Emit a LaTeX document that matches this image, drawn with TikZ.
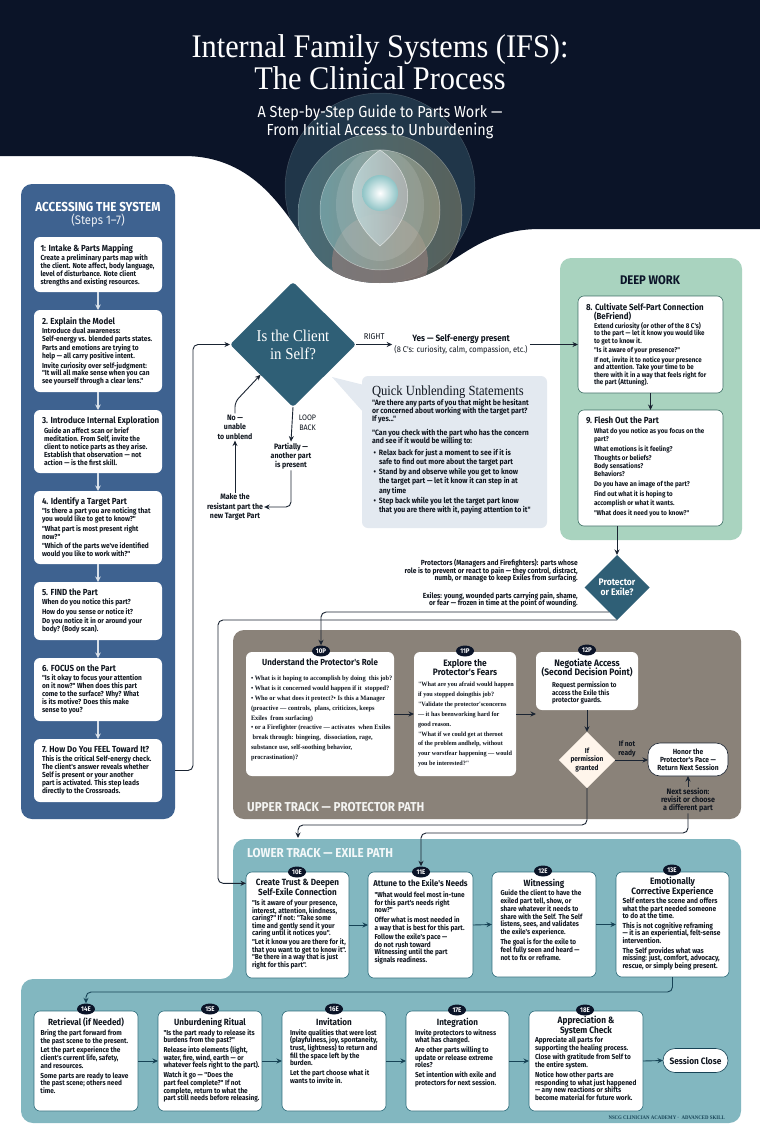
\documentclass[tikz,border=0pt]{standalone}
\usepackage{fontspec}
\usetikzlibrary{arrows.meta,shapes.geometric,calc}
\newfontfamily\condf{Fira Sans}[FakeStretch=0.9]
\newfontfamily\subf{Fira Sans}[FakeStretch=0.9]
\newfontfamily\titlef{Liberation Serif}[FakeStretch=0.92]
\newfontfamily\serifb{Liberation Serif}[FakeStretch=0.9]
\newfontfamily\serift{Liberation Serif}[FakeStretch=0.95]
\newcommand{\condb}{\condf\bfseries}
\newcommand{\sz}[2]{\fontsize{#1}{#2}\selectfont\lineskiplimit=-10pt\relax}
\newcommand{\gap}{\par\vspace{2pt}}
% card heading, left aligned or centred
\newcommand{\hdl}[2][8.8]{{\raggedright\rightskip=-30pt plus 1fil\relax\sz{#1}{9}\condb #2\par}\vspace{1.6pt}}
\newcommand{\hdc}[2][9]{{\centering\sz{#1}{9.3}\condb #2\par}\vspace{1.6pt}}
% card body: size, leading, left indent, lines
\newcommand{\bd}[4]{{\raggedright\leftskip=#3pt\rightskip=-30pt plus 1fil\relax\sz{#1}{#2}\condb #4\par}}
\newcommand{\bds}[2][6.7]{{\raggedright\rightskip=-30pt plus 1fil\relax\sz{#1}{9.85}\serift\bfseries #2\par}}
% white step card placed by its corners, with its own padding
\newcommand{\card}[9][]{%
  \pgfmathsetmacro\cardw{#5-#3-2*(#7)}%
  \pgfmathsetmacro\cardh{#6-#4-2*(#8)}%
  \node[cardbox,#1,inner xsep=#7pt,inner ysep=#8pt,anchor=north west] (#2) at (#3,#4)
    {\parbox[c][\cardh pt][t]{\cardw pt}{#9}};%
}
\definecolor{night}{HTML}{0B1428}
\definecolor{leftpanel}{HTML}{3E6290}
\definecolor{deeppanel}{HTML}{A9D3BF}
\definecolor{upperpanel}{HTML}{8A8279}
\definecolor{lowerpanel}{HTML}{82B7C0}
\definecolor{quickpanel}{HTML}{E3E9F0}
\definecolor{crosspetrol}{HTML}{2F5F76}
\definecolor{wire}{HTML}{1A2432}
\definecolor{wireteal}{HTML}{174356}
\definecolor{textink}{HTML}{10161F}
\definecolor{deepedge}{HTML}{3F6F66}
\definecolor{lowedge}{HTML}{2F6D7C}
\definecolor{halotealdark}{HTML}{35596A}
\definecolor{haloteal}{HTML}{6F9FA3}
\definecolor{haloolive}{HTML}{8F8C6E}
\definecolor{halotealpale}{HTML}{8FC4C6}
\definecolor{halosand}{HTML}{B3AE92}
\definecolor{halorose}{HTML}{9A817E}
\tikzset{
  cardbox/.style={fill=white,rounded corners=6pt,outer sep=0pt,text=textink},
  deepcard/.style={draw=deepedge,line width=.6pt},
  lowcard/.style={draw=lowedge,line width=.6pt},
  conn/.style={draw=wire,line width=.9pt,-{Stealth[length=5.5pt,width=5pt]},rounded corners=5pt},
  lowconn/.style={conn,draw=wireteal},
  liteconn/.style={draw=white!80!leftpanel,line width=1.1pt,-{Stealth[length=5.5pt,width=5.5pt]}},
  panelbox/.style={rounded corners=11pt,inner sep=0pt,outer sep=0pt,anchor=north west},
  badge/.style={ellipse,fill=night,text=white,inner sep=0pt,minimum width=18pt,minimum height=11pt,font=\condb\sz{6.8}{7}},
  pill/.style={fill=white,draw=wire,line width=.6pt,rounded corners=12pt,inner sep=0pt,outer sep=0pt,text=textink,align=center},
  note/.style={text=textink,inner sep=1pt,align=center,font=\condb\sz{7.8}{9}}
}
\begin{document}
\begin{tikzpicture}[x=1pt,y=-1pt]
\useasboundingbox (0,0) rectangle (760,1140);
\fill[white] (0,0) rectangle (760,1140);

% header field with the wave along its lower edge
\def\wavepath{(0,0) -- (760,0) -- (760,229) -- (540,229)
  .. controls (500,229) and (475,245) .. (450,262)
  .. controls (430,276) and (410,283) .. (380,283)
  .. controls (345,283) and (325,270) .. (310,248)
  .. controls (285,212) and (255,156) .. (184,156)
  -- (0,156) -- cycle}
\fill[night] \wavepath;
\begin{scope}
  \clip \wavepath;
  \fill[halotealdark,opacity=.5] (380,188) circle (95);
  \draw[white,opacity=.18,line width=.5pt] (380,188) circle (95);
  \shade[left color=haloteal,right color=haloolive,opacity=.5] (380,215) circle (82);
  \draw[white,opacity=.3,line width=.5pt] (380,215) circle (82);
  \fill[halorose,opacity=.6] (380,262) circle (48);
  \shade[left color=halotealpale,right color=halosand,opacity=.55] (380,210) circle (60);
  \draw[white,opacity=.45,line width=.5pt] (380,210) circle (60);
  \fill[white,opacity=.12] (380,205) ellipse (44 and 56);
  \shade[left color=halotealpale!55!white,right color=gray!65!white,opacity=.85]
    (380,150) .. controls (343,175) and (343,215) .. (380,246)
    .. controls (417,215) and (417,175) .. (380,150);
  \draw[white,opacity=.6,line width=.5pt]
    (380,150) .. controls (343,175) and (343,215) .. (380,246)
    .. controls (417,215) and (417,175) .. (380,150);
  \shade[inner color=white,outer color=halotealpale] (380,193) circle (18);
\end{scope}

\node[text=white,align=center,font=\titlef\sz{33}{31.5}] (title) at (380,62) {Internal Family Systems (IFS):\\The Clinical Process};
\node[text=white,align=center,font=\subf\sz{16}{17.5}] (subtitle) at (380,122) {A Step-by-Step Guide to Parts Work —\\From Initial Access to Unburdening};

% coloured track panels
\node[panelbox,fill=leftpanel,minimum width=154pt,minimum height=635pt] (pa) at (21,184) {};
\node[panelbox,fill=deeppanel,minimum width=182pt,minimum height=282pt] (pd) at (560,258) {};
\node[panelbox,fill=upperpanel,minimum width=508pt,minimum height=189pt] (pu) at (233,630) {};
\fill[lowerpanel] (233,851) arc[start angle=180,end angle=270,radius=12] -- (729,839)
  arc[start angle=-90,end angle=0,radius=12] -- (741,1111)
  arc[start angle=0,end angle=90,radius=12] -- (33,1123)
  arc[start angle=90,end angle=180,radius=12] -- (21,991)
  arc[start angle=180,end angle=270,radius=12] -- (221,979)
  arc[start angle=90,end angle=0,radius=12] -- cycle;

\node[text=white,align=center,font=\condb\sz{13}{13}] (patitle) at (98,207) {ACCESSING THE SYSTEM};
\node[text=white!90!leftpanel,font=\subf\sz{12.5}{13}] (pasub) at (98,220.5) {(Steps 1–7)};
\node[text=night,font=\condb\sz{12.5}{13}] (pdtitle) at (650,280) {DEEP WORK};
\node[text=white!90!upperpanel,anchor=west,inner sep=0pt,font=\condb\sz{12.9}{13}] (putitle) at (247,807) {UPPER TRACK — PROTECTOR PATH};
\node[text=white!90!lowerpanel,anchor=west,inner sep=0pt,font=\condb\sz{12.9}{13}] (pltitle) at (247,853) {LOWER TRACK — EXILE PATH};

% steps 1-7
\card{b1}{34}{237}{162}{292}{6.5}{7.5}{\hdl{1: Intake \& Parts Mapping}\bd{7.3}{7.7}{0}{Create a preliminary parts map with\\the client. Note affect, body language,\\level of disturbance. Note client\\strengths and existing resources.}}
\card{b2}{34}{310}{162}{392}{8}{7}{\hdl{2. Explain the Model}\bd{7.3}{7.7}{0}{Introduce dual awareness:\\Self-energy vs. blended parts states.\gap Parts and emotions are trying to\\help — all carry positive intent.\gap Invite curiosity over self-judgment:\\"It will all make sense when you can\\see yourself through a clear lens."}}
\card{b3}{34}{410}{162}{473}{8}{6.5}{\hdl{3. Introduce Internal Exploration}\bd{7.3}{8}{2}{Guide an affect scan or brief\\meditation. From Self, invite the\\client to notice parts as they arise.\\Establish that observation — not\\action — is the first skill.}}
\card{b4}{34}{491}{162}{564}{8}{6.5}{\hdl{4. Identify a Target Part}\bd{7.3}{7.7}{0}{"Is there a part you are noticing that\\you would like to get to know?"\gap"What part is most present right\\now?"\gap"Which of the parts we've identified\\would you like to work with?"}}
\card{b5}{34}{582}{162}{640}{8}{6.5}{\hdl{5. FIND the Part}\bd{7.3}{7.7}{0}{When do you notice this part?\gap How do you sense or notice it?\gap Do you notice it in or around your\\body? (Body scan).}}
\card{b6}{34}{658}{162}{721}{8}{6.5}{\hdl{6. FOCUS on the Part}\bd{7.3}{8}{0}{"Is it okay to focus your attention\\on it now?" When does this part\\come to the surface? Why? What\\is its motive? Does this make\\sense to you?}}
\card{b7}{34}{739}{162}{802}{8}{6.5}{\hdl{7. How Do You FEEL Toward It?}\bd{7.3}{8}{0}{This is the critical Self-energy check.\\The client's answer reveals whether\\Self is present or your another\\part is activated. This step leads\\directly to the Crossroads.}}
\foreach \u/\v in {b1/b2,b2/b3,b3/b4,b4/b5,b5/b6,b6/b7}
  \draw[liteconn] (\u.south) -- (\v.north);

% steps 8-9
\card[deepcard]{b8}{578}{296}{723}{393}{8}{7}{\hdl{8. Cultivate Self-Part Connection\\\hspace*{8pt}(BeFriend)}\bd{6.9}{7.5}{8}{Extend curiosity (or other of the 8 C's)\\to the part — let it know you would like\\to get to know it.\gap"Is it aware of your presence?"\gap If not, invite it to notice your presence\\and attention. Take your time to be\\there with it in a way that feels right for\\the part (Attuning).}}
\card[deepcard]{b9}{578}{410}{723}{526}{8}{7}{\hdl{9. Flesh Out the Part}\bd{6.9}{8.2}{8}{What do you notice as you focus on the\\part?\gap What emotions is it feeling?\\Thoughts or beliefs?\\Body sensations?\\Behaviors?\gap Do you have an image of the part?\gap Find out what it is hoping to\\accomplish or what it wants.\gap"What does it need you to know?"}}
\draw[conn] (b8.south) -- (b9.north);

% first decision and its loop
\node[diamond,fill=crosspetrol,rounded corners=3pt,minimum width=126pt,minimum height=125pt,aspect=1,inner sep=0pt,outer sep=0pt,text=white,align=center,font=\serifb\sz{16.5}{18}] (cr) at (293,344.5) {Is the Client\\in Self?};
\coordinate (riseL) at (193,500);
\draw[conn] (pa.east |- b7.east) -- (b7.east -| riseL) -- (riseL |- cr.west) -- (cr.west);
\node[text=textink,align=center,inner sep=2pt,font=\condf\sz{8.3}{10.5}] (yes) at (461,344.5) {{\condb\sz{9.1}{10.5}Yes — Self-energy present}\\(8 C's: curiosity, calm, compassion, etc.)};
\draw[conn] (cr.east) -- node[above=1pt,text=textink,font=\condf\sz{8.4}{9}] (rightlab) {RIGHT} (yes.west);
\draw[conn] (yes.east) -- (yes.east -| b8.west);
\node[note,font=\condb\sz{7.8}{9.2}] (partial) at (291,456) {Partially —\\another part\\is present};
\node[note,font=\condb\sz{7.8}{9.2}] (make) at (235,507) {Make the\\resistant part the\\new Target Part};
\node[note,font=\condb\sz{7.8}{9.6}] (no) at (235,427) {No —\\unable\\to unblend};
\draw[conn] (cr.south) -- node[right=3pt,pos=.45,text=textink,align=center,font=\condf\sz{7.9}{10}] (looplab) {LOOP\\BACK} (partial.north);
\draw[conn] (partial.south) -- (partial.south |- make.east) -- (make.east);
\draw[conn] (make.north) -- (no.south);
\coordinate (nobend) at (235,402);
\draw[conn] (no.north) -- (nobend) -- (cr.223);

% unblending statements callout
\fill[quickpanel] (332,377) -- (364,385) -- (364,413) -- cycle;
\card[fill=quickpanel,text=textink]{qu}{362}{376}{547}{528}{10}{9.5}{%
  {\serifb\sz{14}{15}Quick Unblending Statements\par}\vspace{2.5pt}%
  \bd{7.7}{8}{0}{"Are there any parts of you that might be hesitant\\or concerned about working with the target part?\\If yes..."\par\vspace{5.5pt}"Can you check with the part who has the concern\\and see if it would be willing to:}\vspace{2.5pt}%
  \bd{7.7}{9.4}{7}{\leavevmode\llap{•\hspace{3pt}}Relax back for just a moment to see if it is\\safe to find out more about the target part\par\vspace{.5pt}\leavevmode\llap{•\hspace{3pt}}Stand by and observe while you get to know\\the target part — let it know it can step in at\\any time\par\vspace{.5pt}\leavevmode\llap{•\hspace{3pt}}Step back while you let the target part know\\that you are there with it, paying attention to it"}}

% second decision with its two notes
\node[diamond,fill=crosspetrol,minimum width=65pt,minimum height=65pt,aspect=1,inner sep=0pt,outer sep=0pt,text=white,align=center,font=\condb\sz{9.5}{10.5}] (pe) at (617,587.5) {Protector\\or Exile?};
\draw[conn] (b9.south -| pe.north) -- (pe.north);
\node[anchor=east,inner sep=0pt,align=right,text=textink,font=\condb\sz{7.4}{7.6}] (protnote) at (578,571) {Protectors (Managers and Firefighters): parts whose\\role is to prevent or react to pain — they control, distract,\\numb, or manage to keep Exiles from surfacing.};
\node[anchor=east,inner sep=0pt,align=right,text=textink,font=\condb\sz{7.4}{7.6}] (exnote) at (578,600) {Exiles: young, wounded parts carrying pain, shame,\\or fear — frozen in time at the point of wounding.};

% upper track cards
\card{b10p}{246}{652}{394}{776}{5}{7}{\hdc[8.8]{Understand the Protector's Role}\vspace{3.5pt}\bds{• What is it hoping to accomplish by doing~ this job?\\• What is it concerned would happen if it~ stopped?\\• Who or what does it protect?• Is this a Manager\\(proactive — controls,~ plans, criticizes, keeps\\Exiles~ from surfacing)\\• or a Firefighter (reactive — activates~ when Exiles\\\hspace*{1.5pt}break through: bingeing,~ dissociation, rage,\\substance use, self-soothing behavior,\\procrastination)?}}
\card{b11p}{414}{652}{516}{776}{4}{7}{\hdc[9.3]{Explore the\\Protector's Fears}\bds[6.5]{"What are you afraid would happen\\if you stopped doingthis job?\\"Validate the protector'sconcerns\\— it has beenworking hard for\\good reason.\\"What if we could get at theroot\\of the problem andhelp, without\\your worstfear happening — would\\you be interested?"}}
\card{b12p}{536}{652}{638}{710}{5}{7}{\hdc[9.4]{Negotiate Access\\(Second Decision Point)}\vspace{2pt}\bd{7}{7.8}{11}{Request permission to\\access the Exile this\\protector guards.}}
\node[badge] (bd10p) at (321,651) {10P};
\node[badge] (bd11p) at (465,651) {11P};
\node[badge] (bd12p) at (587,650) {12P};
\draw[conn] (b10p.east) -- (b11p.west);
\draw[conn] (b11p.east) -- (b11p.east -| b12p.west);
\draw[conn] (pe.252) -- (pe.252 -| bd10p.north) -- (bd10p.north);

% second decision of the upper track
\node[diamond,fill=white!92!orange,minimum width=56pt,minimum height=54pt,aspect=1,inner sep=0pt,outer sep=0pt,text=textink,align=center,font=\condb\sz{7.2}{8.2}] (dg) at (587,760) {If\\permission\\granted};
\draw[conn] (b12p.south) -- (dg.north);
\node[pill,minimum width=80pt,minimum height=33pt,font=\condb\sz{7.4}{8.2}] (hon) at (688,759.5) {Honor the\\Protector's Pace —\\Return Next Session};
\draw[conn] (dg.east) -- (dg.east -| hon.west);
\node[note,anchor=south,font=\condb\sz{7.4}{8.4},inner sep=0pt] (ifnot) at (627,757) {If not\\ready};
\node[note,font=\condb\sz{7.9}{8}] (nextses) at (688,800) {Next session:\\revisit or choose\\a different part};
\draw[conn] (nextses.north) -- (hon.south);

% lower track, first row
\card[lowcard]{b10e}{246}{872}{349}{978}{6}{7.5}{\hdc[9]{Create Trust \& Deepen\\Self-Exile Connection}\vspace{1pt}\bd{7.2}{7.6}{0}{"Is it aware of your presence,\\interest, attention, kindness,\\caring?" If not: "Take some\\time and gently send it your\\caring until it notices you".\par\vspace{1.2pt}"Let it know you are there for it,\\that you want to get to know it".\\"Be there in a way that is just\\right for this part".}}
\card[lowcard]{b11e}{368}{872}{473}{978}{6.5}{8}{\hdc[8.6]{\makebox[\linewidth][c]{Attune to the Exile's Needs}}\vspace{1.5pt}\bd{7.2}{7.6}{0}{"What would feel most in-tune\\for this part's needs right\\now?"\gap Offer what is most needed in\\a way that is best for this part.\gap Follow the exile's pace —\\do not rush toward\\Witnessing until the part\\signals readiness.}}
\card[lowcard]{b12e}{492}{872}{596}{977}{8.5}{7}{\hdc[9]{Witnessing}\bd{7.15}{7.8}{0}{Guide the client to have the\\exiled part tell, show, or\\share whatever it needs to\\share with the Self. The Self\\listens, sees, and validates\\the exile's experience.\gap The goal is for the exile to\\feel fully seen and heard —\\not to fix or reframe.}}
\card[lowcard]{b13e}{616}{872}{729}{977}{6.5}{5.5}{\hdc[9.2]{Emotionally\\Corrective Experience}\bd{7.3}{7.6}{0}{Self enters the scene and offers\\what the part needed someone\\to do at the time.\gap This is not cognitive reframing\\— it is an experiential, felt-sense\\intervention.\gap The Self provides what was\\missing: just, comfort, advocacy,\\rescue, or simply being present.}}
\node[badge] (bd10e) at (297,872) {10E};
\node[badge] (bd11e) at (421,872) {11E};
\node[badge] (bd12e) at (543,871) {12E};
\node[badge] (bd13e) at (672,870) {13E};
\draw[lowconn] (b10e.east) -- (b11e.west);
\draw[lowconn] (b11e.east) -- (b12e.west);
\draw[lowconn] (b12e.east) -- (b13e.west);

% routes from the decisions into the lower track
\coordinate (exilerail) at (218,700);
\draw[conn] (pe.south) -- (pe.south -| exilerail) -- (exilerail |- b10e.141) -- (b10e.141);
\coordinate (grantrail) at (400,825);
\coordinate (granttip) at (298,838);
\draw[conn] (dg.south) -- (dg.south |- grantrail) -- (granttip |- grantrail) -- (granttip);
\coordinate (nextrail) at (500,833);
\draw[conn] (nextses.south) -- (nextses.south |- nextrail) -- (bd11e.north |- nextrail) -- (bd11e.north);

% lower track, second row
\card[lowcard]{b14e}{34}{1011}{138}{1111}{6.5}{7}{\hdc[9]{Retrieval (if Needed)}\vspace{.5pt}\bd{7.2}{7.7}{0}{Bring the part forward from\\the past scene to the present.\gap Let the part experience the\\client's current life, safety,\\and resources.\gap Some parts are ready to leave\\the past scene; others need\\time.}}
\card[lowcard]{b15e}{158}{1011}{262}{1111}{5.5}{7}{\hdc[9]{Unburdening Ritual}\vspace{.5pt}\bd{7.2}{7.7}{0}{"Is the part ready to release its\\burdens from the past?"\gap Release into elements (light,\\water, fire, wind, earth — or\\whatever feels right to the part).\gap Watch it go — "Does the\\part feel complete?" If not\\complete, return to what the\\part still needs before releasing.}}
\card[lowcard]{b16e}{282}{1011}{386}{1111}{8}{7}{\hdc[9]{Invitation}\vspace{.5pt}\bd{7.2}{7.7}{0}{Invite qualities that were lost\\(playfulness, joy, spontaneity,\\trust, lightness) to return and\\fill the space left by the\\burden.\gap Let the part choose what it\\wants to invite in.}}
\card[lowcard]{b17e}{406}{1011}{509}{1111}{9}{7}{\hdc[9]{Integration}\vspace{.5pt}\bd{7.2}{7.7}{0}{Invite protectors to witness\\what has changed.\gap Are other parts willing to\\update or release extreme\\roles?\gap Set intention with exile and\\protectors for next session.}}
\card[lowcard]{b18e}{529}{1011}{643}{1111}{6}{5.5}{\hdc[9.2]{Appreciation \&\\System Check}\bd{7.2}{7.7}{0}{Appreciate all parts for\\supporting the healing process.\gap Close with gratitude from Self to\\the entire system.\gap Notice how other parts are\\responding to what just happened\\— any new reactions or shifts\\become material for future work.}}
\node[pill,draw=wireteal,minimum width=65pt,minimum height=24pt,font=\condb\sz{9.2}{9.5}] (close) at (695.5,1060.5) {Session Close};
\node[badge] (bd14e) at (86,1009) {14E};
\node[badge] (bd15e) at (210,1009) {15E};
\node[badge] (bd16e) at (334,1009) {16E};
\node[badge] (bd17e) at (457,1010) {17E};
\node[badge] (bd18e) at (585,1010) {18E};
\foreach \u/\v in {b14e/b15e,b15e/b16e,b16e/b17e,b17e/b18e,b18e/close}
  \draw[lowconn] (\u.east) -- (\v.west);
\coordinate (returnrail) at (400,992);
\draw[lowconn] (b13e.south) -- (b13e.south |- returnrail) -- (bd14e.north |- returnrail) -- (bd14e.north);

\node[anchor=east,inner sep=0pt,text=wireteal,font=\serifb\bfseries\sz{5.4}{6}] (footer) at (725,1118) {NSCG CLINICIAN ACADEMY ·~ ADVANCED SKILL};
\end{tikzpicture}
\end{document}
